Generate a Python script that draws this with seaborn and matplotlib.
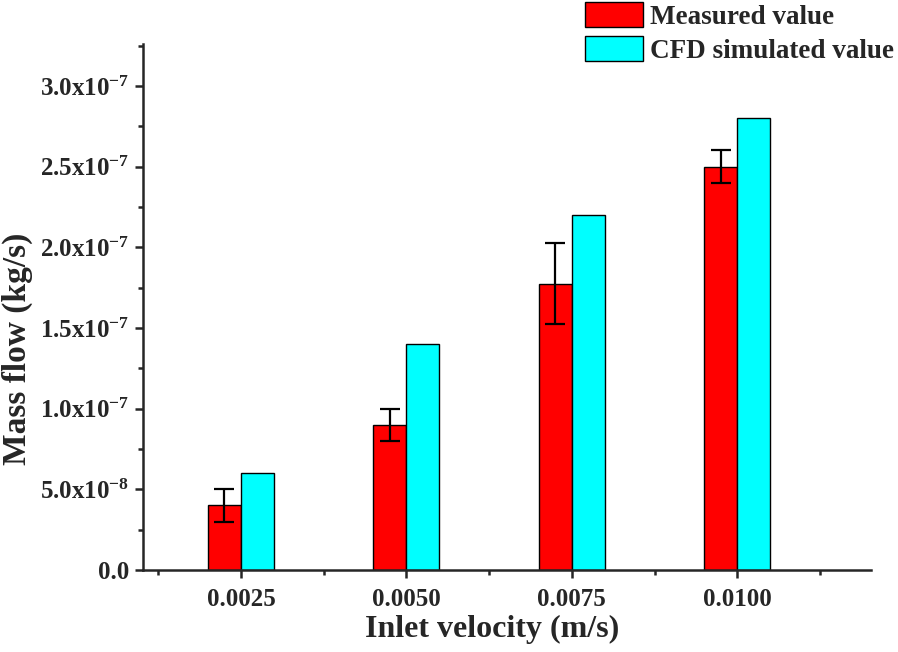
import numpy as np
import pandas as pd
import seaborn as sns
from matplotlib import pyplot as plt
from matplotlib.ticker import MultipleLocator, FuncFormatter, FormatStrFormatter

#%% DATA
velocity = [0.0025, 0.0050, 0.0075, 0.0100]
measured = [4.0e-8, 9.0e-8, 1.775e-7, 2.5e-7]
measured_err = [1.0e-8, 1.0e-8, 2.5e-8, 1.0e-8]
cfd = [6.0e-8, 1.4e-7, 2.2e-7, 2.8e-7]
series = ['Measured value', 'CFD simulated value']
colors = ['#FF0000', '#00FFFF']

df = pd.DataFrame({
    'velocity': velocity * 2,
    'flow': measured + cfd,
    'series': [series[0]] * 4 + [series[1]] * 4,
})

#%% STYLE
sns.set_style('ticks')
plt.rcParams['font.family'] = ['Liberation Serif', 'DejaVu Serif']
plt.rcParams['font.weight'] = 'bold'
plt.rcParams['mathtext.fontset'] = 'custom'
plt.rcParams['mathtext.rm'] = 'Liberation Serif:bold'
plt.rcParams['mathtext.it'] = 'Liberation Serif:bold'
plt.rcParams['mathtext.bf'] = 'Liberation Serif:bold'

fig = plt.figure(figsize=(8.98, 6.52), dpi=100)
ax = fig.add_axes([143 / 898, 82 / 652, 728 / 898, 526 / 652])

sns.barplot(data=df, x='velocity', y='flow', hue='series', hue_order=series,
            palette=dict(zip(series, colors)), native_scale=True, width=0.4,
            errorbar=None, edgecolor='black', linewidth=1.0, saturation=1,
            ax=ax)

# error bars on the measured bars (left bar of each group)
step = min(np.diff(velocity))
offset = 0.4 * step / 4
ax.errorbar(np.array(velocity) - offset, measured, yerr=measured_err,
            fmt='none', ecolor='black', elinewidth=1.6, capsize=7, capthick=1.6)

ax.set_xlim(0.00102, 0.01202)
ax.set_ylim(0, 3.26e-7)

ax.xaxis.set_major_locator(MultipleLocator(0.0025))
ax.xaxis.set_minor_locator(MultipleLocator(0.00125))
ax.xaxis.set_major_formatter(FormatStrFormatter('%.4f'))
ax.yaxis.set_major_locator(MultipleLocator(5e-8))
ax.yaxis.set_minor_locator(MultipleLocator(2.5e-8))


def sci_fmt(v, pos):
    if abs(v) < 1e-15:
        return '0.0'
    e = int(np.floor(np.log10(abs(v))))
    m = v / 10 ** e
    return f'{m:.1f}x10$^{{{e}}}$'


ax.yaxis.set_major_formatter(FuncFormatter(sci_fmt))

for s in ['top', 'right']:
    ax.spines[s].set_visible(False)
for s in ['left', 'bottom']:
    ax.spines[s].set_linewidth(1.8)

ax.tick_params(axis='both', which='major', length=6, width=1.8, labelsize=18)
ax.tick_params(axis='both', which='minor', length=3.5, width=1.8)
ax.tick_params(axis='x', which='major', pad=7)
ax.tick_params(axis='y', which='major', pad=4)

ax.set_xlabel('Inlet velocity (m/s)', fontsize=23, fontweight='bold')
ax.set_ylabel('Mass flow (kg/s)', fontsize=24, fontweight='bold')
ax.xaxis.set_label_coords(0.48, -0.085)
ax.xaxis.label.set_va('top')
ax.yaxis.set_label_coords(-0.151, 0.42)

handles, labels = ax.get_legend_handles_labels()
ax.get_legend().remove()
fig.legend(handles, labels, loc='upper left', bbox_to_anchor=(585 / 898, 1 - 2 / 652),
           frameon=False, handlelength=2.15, handleheight=1.07,
           labelspacing=0.22, handletextpad=0.26, borderpad=0, borderaxespad=0,
           prop={'weight': 'bold', 'size': 19.5})

fig.savefig('out.png', dpi=100)
